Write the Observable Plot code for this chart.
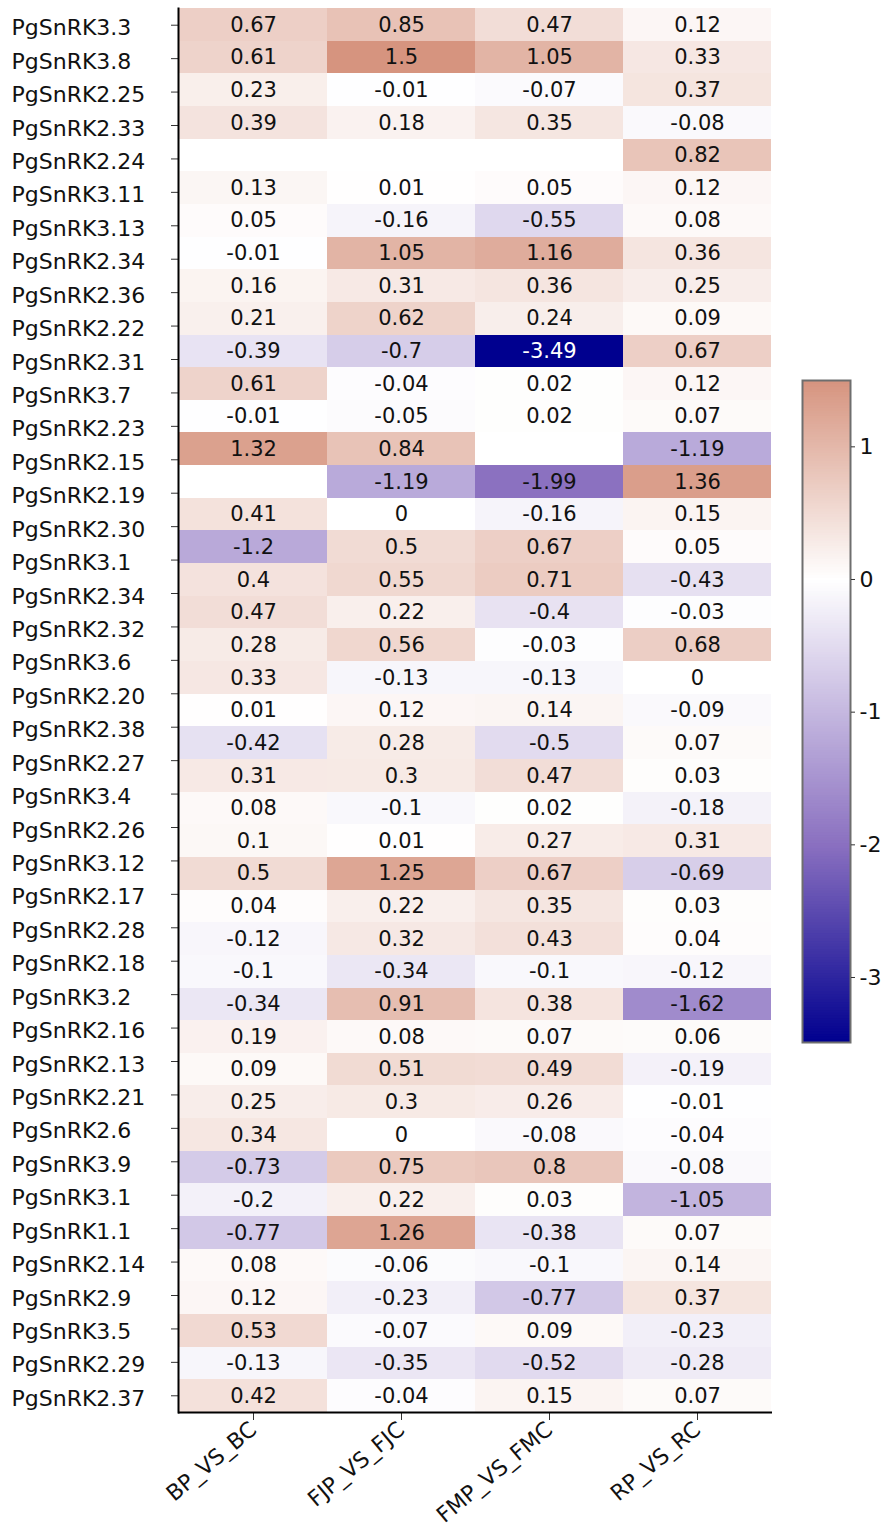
<!DOCTYPE html>
<html><head><meta charset="utf-8">
<script src="https://cdn.jsdelivr.net/npm/d3@7"></script>
<script src="https://cdn.jsdelivr.net/npm/@observablehq/plot@0.6"></script>
<style>
html,body{margin:0;padding:0;background:#fff;}
#wrap{position:relative;width:885px;height:1535px;font-family:"DejaVu Sans",sans-serif;}
#main{position:absolute;left:0;top:0;}
#bar{position:absolute;left:790px;top:370px;}
</style></head><body><div id="wrap"><div id="main"></div><div id="bar"></div></div>
<script>
const columns = ["BP_VS_BC", "FJP_VS_FJC", "FMP_VS_FMC", "RP_VS_RC"];
const rowLabels = ["PgSnRK3.3","PgSnRK3.8","PgSnRK2.25","PgSnRK2.33","PgSnRK2.24","PgSnRK3.11","PgSnRK3.13","PgSnRK2.34","PgSnRK2.36","PgSnRK2.22","PgSnRK2.31","PgSnRK3.7","PgSnRK2.23","PgSnRK2.15","PgSnRK2.19","PgSnRK2.30","PgSnRK3.1","PgSnRK2.34","PgSnRK2.32","PgSnRK3.6","PgSnRK2.20","PgSnRK2.38","PgSnRK2.27","PgSnRK3.4","PgSnRK2.26","PgSnRK3.12","PgSnRK2.17","PgSnRK2.28","PgSnRK2.18","PgSnRK3.2","PgSnRK2.16","PgSnRK2.13","PgSnRK2.21","PgSnRK2.6","PgSnRK3.9","PgSnRK3.1","PgSnRK1.1","PgSnRK2.14","PgSnRK2.9","PgSnRK3.5","PgSnRK2.29","PgSnRK2.37"];
const bpVsBc = [0.67,0.61,0.23,0.39,null,0.13,0.05,-0.01,0.16,0.21,-0.39,0.61,-0.01,1.32,null,0.41,-1.2,0.4,0.47,0.28,0.33,0.01,-0.42,0.31,0.08,0.1,0.5,0.04,-0.12,-0.1,-0.34,0.19,0.09,0.25,0.34,-0.73,-0.2,-0.77,0.08,0.12,0.53,-0.13,0.42];
const fjpVsFjc = [0.85,1.5,-0.01,0.18,null,0.01,-0.16,1.05,0.31,0.62,-0.7,-0.04,-0.05,0.84,-1.19,0,0.5,0.55,0.22,0.56,-0.13,0.12,0.28,0.3,-0.1,0.01,1.25,0.22,0.32,-0.34,0.91,0.08,0.51,0.3,0,0.75,0.22,1.26,-0.06,-0.23,-0.07,-0.35,-0.04];
const fmpVsFmc = [0.47,1.05,-0.07,0.35,null,0.05,-0.55,1.16,0.36,0.24,-3.49,0.02,0.02,null,-1.99,-0.16,0.67,0.71,-0.4,-0.03,-0.13,0.14,-0.5,0.47,0.02,0.27,0.67,0.35,0.43,-0.1,0.38,0.07,0.49,0.26,-0.08,0.8,0.03,-0.38,-0.1,-0.77,0.09,-0.52,0.15];
const rpVsRc = [0.12,0.33,0.37,-0.08,0.82,0.12,0.08,0.36,0.25,0.09,0.67,0.12,0.07,-1.19,1.36,0.15,0.05,-0.43,-0.03,0.68,0,-0.09,0.07,0.03,-0.18,0.31,-0.69,0.03,0.04,-0.12,-1.62,0.06,-0.19,-0.01,-0.04,-0.08,-1.05,0.07,0.14,0.37,-0.23,-0.28,0.07];
const legendTicks = [1, 0, -1, -2, -3];

const series = [bpVsBc, fjpVsFjc, fmpVsFmc, rpVsRc];
const nRows = bpVsBc.length;
const cells = [];
columns.forEach((c, ci) => series[ci].forEach((v, i) => {
  if (v !== null) cells.push({col: c, row: i, value: v});
}));
const labelPos = rowLabels.map((_, j) => (j + 0.5) * nRows / rowLabels.length);
const vmin = d3.min(cells, d => d.value), vmax = d3.max(cells, d => d.value);

const color = {type: "linear", domain: [vmin, -2, 0, vmax],
  range: ["#00008f", "#8a70c0", "#ffffff", "#d6947f"], interpolate: "rgb"};
const font = {fontFamily: "'DejaVu Sans', sans-serif", fontSize: "21px", color: "#111", background: "white"};

const main = Plot.plot({
  width: 885, height: 1535,
  marginTop: 8, marginBottom: 123, marginLeft: 178, marginRight: 113,
  style: font,
  x: {domain: columns, padding: 0, label: null},
  y: {domain: [0, nRows], reverse: true, label: null},
  color,
  marks: [
    Plot.barY(cells, {x: "col", y1: "row", y2: d => d.row + 1, fill: "value", inset: 0, shapeRendering: "crispEdges"}),
    Plot.text(cells, {filter: d => d.value >= -3, x: "col", y: d => d.row + 0.5, text: d => String(d.value), fill: "#111", fontSize: 21}),
    Plot.text(cells, {filter: d => d.value < -3, x: "col", y: d => d.row + 0.5, text: d => String(d.value), fill: "white", fontSize: 21}),
    Plot.axisY({ticks: labelPos, tickSize: 7, fill: "none", stroke: "#333", label: null}),
    Plot.axisY({ticks: labelPos, tickSize: 0, tickFormat: d => rowLabels[Math.round(d * rowLabels.length / nRows - 0.5)],
      textAnchor: "start", dx: -158, dy: 3, fontSize: 22, fill: "#111", label: null}),
    Plot.axisX({tickSize: 8, tickRotate: -40, fontSize: 22, tickPadding: 6, stroke: "#333", fill: "#111", label: null}),
    Plot.ruleY([nRows], {stroke: "#000", strokeWidth: 2}),
    Plot.frame({anchor: "left", stroke: "#000", strokeWidth: 2})
  ]
});
document.getElementById("main").append(main);

const step = 0.02;
const stripes = d3.range(vmin, vmax, step).map(v => ({y1: v, y2: Math.min(v + step * 1.5, vmax)}));
const bar = Plot.plot({
  width: 95, height: 685,
  marginTop: 10, marginBottom: 13, marginLeft: 12, marginRight: 35,
  style: font,
  y: {domain: [vmin, vmax], label: null},
  color,
  marks: [
    Plot.rect(stripes, {y1: "y1", y2: "y2", fill: d => (d.y1 + d.y2) / 2}),
    Plot.frame({stroke: "#6e6e6e", strokeWidth: 2}),
    Plot.axisY({anchor: "right", ticks: legendTicks, tickFormat: d => String(d), tickSize: 4, tickPadding: 5,
      fontSize: 22, stroke: "#333", fill: "#111", label: null})
  ]
});
document.getElementById("bar").append(bar);
</script></body></html>
